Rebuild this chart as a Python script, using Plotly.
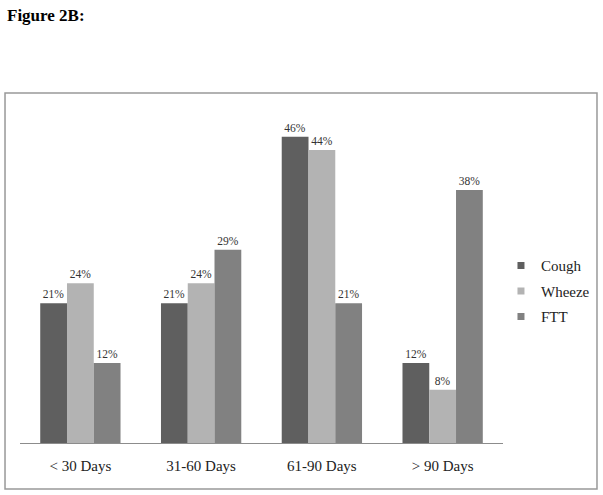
import plotly.graph_objects as go

categories = ["< 30 Days", "31-60 Days", "61-90 Days", "> 90 Days"]
cough = [21, 21, 46, 12]
wheeze = [24, 24, 44, 8]
ftt = [12, 29, 21, 38]

series = [
    ("Cough", cough, "#5f5f5f"),
    ("Wheeze", wheeze, "#b3b3b3"),
    ("FTT", ftt, "#818181"),
]

SERIF = "Liberation Serif, Times New Roman, serif"

fig = go.Figure()
for name, values, color in series:
    fig.add_trace(
        go.Bar(
            x=categories,
            y=values,
            name=name,
            marker={"color": color, "line": {"width": 0}},
            text=[f"{v}%" for v in values],
            textposition="outside",
            textfont={"family": SERIF, "size": 11.5, "color": "#333333"},
            cliponaxis=False,
            showlegend=False,
        )
    )
    # small square swatches for the legend
    fig.add_trace(
        go.Scatter(
            x=[None],
            y=[None],
            mode="markers",
            name=name,
            marker={"color": color, "size": 7, "symbol": "square"},
            legendgroup=name,
        )
    )

# paper spans x 20..603 px; the bar area uses 20..503 px
fig.update_layout(
    width=603,
    height=495,
    margin={"l": 20, "r": 0, "t": 110, "b": 52},
    paper_bgcolor="white",
    plot_bgcolor="white",
    barmode="group",
    bargap=0.335,
    bargroupgap=0,
    font={"family": SERIF, "color": "#222222"},
    legend={
        "x": 0.825,
        "y": 0.456,
        "xanchor": "left",
        "yanchor": "middle",
        "bgcolor": "rgba(0,0,0,0)",
        "font": {"family": SERIF, "size": 15, "color": "#222222"},
        "traceorder": "grouped",
        "tracegroupgap": 3,
        "itemwidth": 30,
    },
    xaxis={
        "domain": [0, 0.8285],
        "showline": True,
        "linecolor": "#8c8c8c",
        "linewidth": 1,
        "ticks": "outside",
        "ticklen": 9,
        "tickcolor": "rgba(0,0,0,0)",
        "tickfont": {"family": SERIF, "size": 15, "color": "#222222"},
        "showgrid": False,
    },
    yaxis={
        "range": [0, 50],
        "visible": False,
        "showgrid": False,
    },
    shapes=[
        {
            "type": "rect",
            "xref": "paper",
            "yref": "paper",
            "x0": -0.0257,
            "x1": 0.9897,
            "y0": -0.138,
            "y1": 1.051,
            "line": {"color": "#999999", "width": 1.5},
        }
    ],
    annotations=[
        {
            "text": "<b>Figure 2B:</b>",
            "xref": "paper",
            "yref": "paper",
            "x": -0.0265,
            "y": 1.318,
            "xanchor": "left",
            "yanchor": "top",
            "showarrow": False,
            "font": {"family": SERIF, "size": 17, "color": "#000000"},
        }
    ],
)

fig.write_html(
    "out.html",
    config={"displayModeBar": False},
    post_script="document.body.style.margin = '0';",
)
